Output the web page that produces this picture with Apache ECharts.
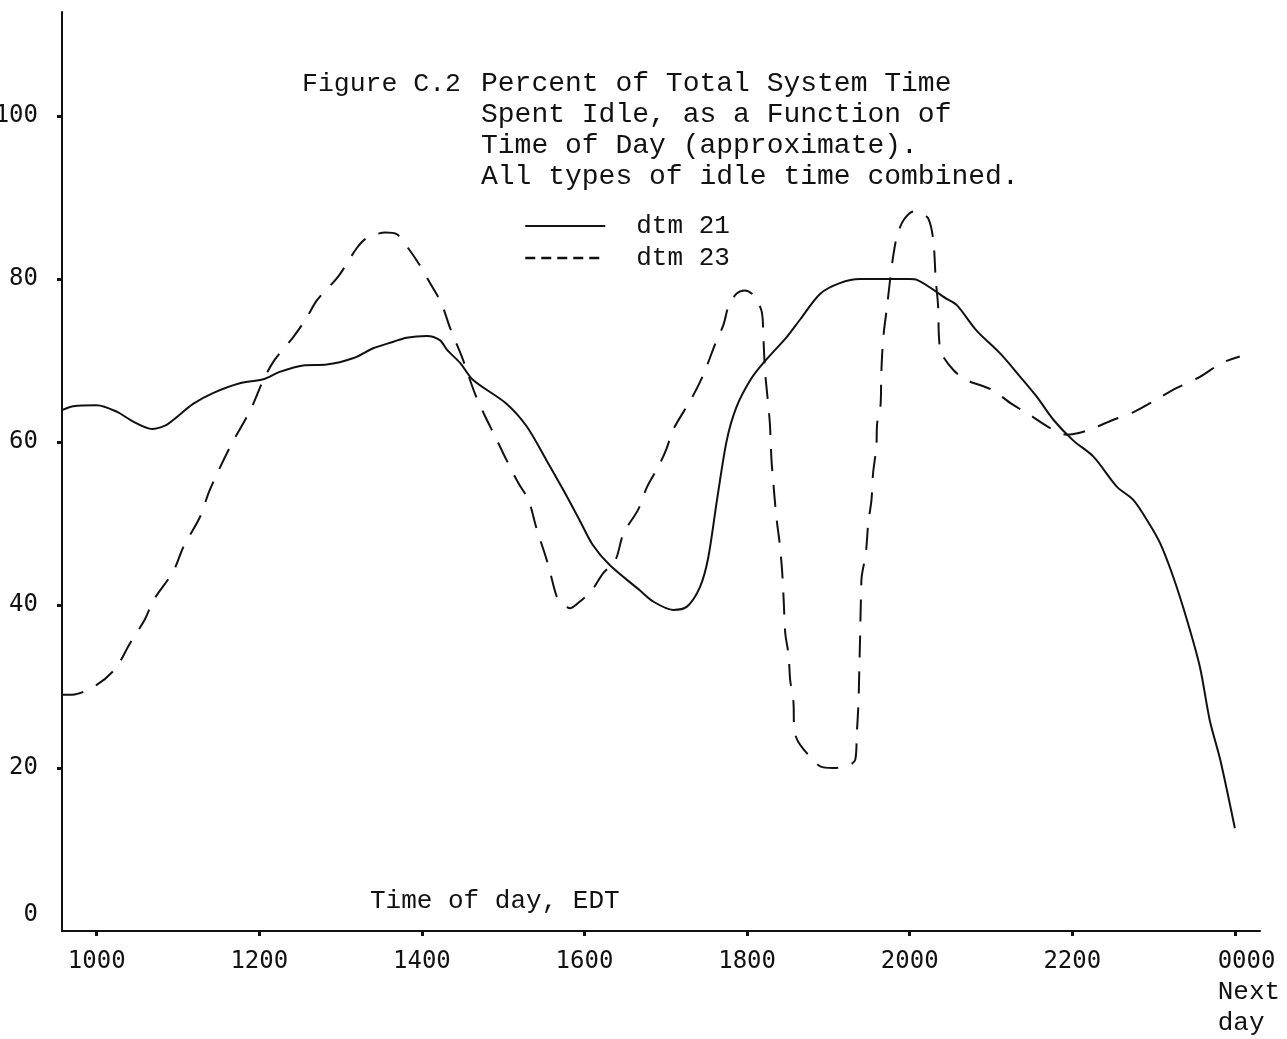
<!DOCTYPE html>
<html>
<head>
<meta charset="utf-8">
<script src="https://cdn.jsdelivr.net/npm/echarts@6/dist/echarts.min.js"></script>
<style>
  html, body { margin: 0; padding: 0; background: #ffffff; }
  #chart { width: 1287px; height: 1039px; }
</style>
</head>
<body>
<div id="chart"></div>
<script>
// ---- Data (time of day in decimal hours; 24 = 0000 next day) ----
const xTickHours = [10, 12, 14, 16, 18, 20, 22, 24];
const xTickLabels = ['1000', '1200', '1400', '1600', '1800', '2000', '2200', '0000'];
const yTickValues = [0, 20, 40, 60, 80, 100];

const dtm21Hours = [9.57, 9.71, 10.00, 10.25, 10.45, 10.68, 10.84, 10.94, 11.19, 11.43, 11.76, 12.05, 12.25, 12.54, 12.83, 13.16, 13.40, 13.65, 13.81, 14.06, 14.22, 14.31, 14.47, 14.63, 15.04, 15.29, 15.53, 15.74, 15.94, 16.10, 16.31, 16.68, 16.85, 17.09, 17.26, 17.42, 17.52, 17.63, 17.75, 17.87, 18.04, 18.20, 18.49, 18.65, 18.90, 19.14, 19.39, 20.00, 20.09, 20.45, 20.58, 20.82, 21.11, 21.36, 21.56, 21.77, 22.01, 22.26, 22.55, 22.75, 22.92, 23.08, 23.24, 23.41, 23.57, 23.69, 23.82, 24.00];
const dtm21Values = [63.9, 64.4, 64.5, 63.7, 62.5, 61.6, 62.0, 62.7, 64.7, 66.0, 67.2, 67.7, 68.6, 69.4, 69.5, 70.3, 71.5, 72.3, 72.8, 73.0, 72.5, 71.3, 69.7, 67.6, 64.7, 61.9, 57.8, 54.1, 50.4, 47.4, 44.9, 41.8, 40.4, 39.4, 39.8, 42.2, 45.7, 52.9, 60.2, 64.3, 67.6, 69.7, 72.9, 75.0, 78.2, 79.5, 80.0, 80.0, 79.9, 77.6, 76.8, 73.7, 70.9, 68.0, 65.6, 62.7, 60.2, 58.2, 54.5, 52.9, 50.4, 47.6, 43.5, 38.2, 32.4, 25.9, 21.0, 12.6];

const dtm23Hours = [9.57, 9.70, 10.00, 10.23, 10.41, 10.59, 10.70, 10.94, 11.07, 11.27, 11.39, 11.64, 11.89, 12.05, 12.19, 12.42, 12.58, 12.71, 12.97, 13.20, 13.32, 13.55, 13.69, 13.83, 13.96, 14.10, 14.24, 14.35, 14.49, 14.65, 14.78, 14.90, 15.04, 15.19, 15.31, 15.41, 15.53, 15.58, 15.66, 15.72, 15.82, 15.94, 16.09, 16.23, 16.38, 16.48, 16.66, 16.77, 16.91, 17.01, 17.09, 17.32, 17.46, 17.61, 17.71, 17.77, 17.87, 17.97, 18.08, 18.18, 18.20, 18.22, 18.25, 18.28, 18.30, 18.32, 18.36, 18.40, 18.43, 18.45, 18.47, 18.51, 18.53, 18.57, 18.58, 18.63, 18.79, 18.90, 19.05, 19.22, 19.33, 19.35, 19.37, 19.38, 19.39, 19.40, 19.41, 19.46, 19.49, 19.53, 19.55, 19.59, 19.60, 19.64, 19.65, 19.66, 19.68, 19.72, 19.76, 19.80, 19.85, 19.93, 20.05, 20.15, 20.23, 20.29, 20.32, 20.35, 20.36, 20.39, 20.54, 20.70, 21.01, 21.25, 21.48, 21.73, 21.93, 22.08, 22.26, 22.50, 22.76, 22.98, 23.28, 23.57, 23.84, 24.06];
const dtm23Values = [29.0, 29.0, 30.2, 32.2, 35.3, 38.2, 40.6, 44.1, 47.2, 50.8, 54.1, 59.4, 63.9, 67.6, 70.1, 72.9, 75.2, 77.4, 80.3, 83.8, 85.0, 85.7, 85.5, 83.8, 81.9, 79.5, 77.0, 73.9, 70.5, 66.0, 63.1, 60.7, 57.8, 54.9, 52.9, 49.4, 45.7, 43.9, 41.0, 40.4, 39.6, 40.4, 41.8, 43.9, 45.5, 48.8, 51.7, 54.5, 57.0, 59.2, 61.5, 65.4, 68.2, 72.1, 74.4, 76.6, 78.2, 78.6, 78.0, 76.0, 72.9, 68.8, 65.6, 62.3, 57.8, 55.3, 50.8, 47.6, 44.3, 40.6, 36.5, 33.9, 30.8, 28.1, 24.7, 23.2, 21.2, 20.2, 20.0, 20.2, 21.0, 24.3, 28.0, 32.0, 36.0, 40.8, 43.5, 46.3, 50.0, 52.9, 56.2, 59.4, 62.3, 64.3, 68.0, 70.5, 73.3, 76.5, 80.0, 83.0, 85.5, 87.3, 88.3, 88.0, 87.4, 84.8, 80.0, 76.6, 72.9, 70.9, 68.8, 67.6, 66.4, 64.7, 63.3, 61.7, 60.9, 61.1, 61.7, 62.7, 63.7, 64.9, 66.6, 68.0, 69.7, 70.5];

const titleLabel = 'Figure C.2';
const titleLines = ['Percent of Total System Time', 'Spent Idle, as a Function of', 'Time of Day (approximate).', 'All types of idle time combined.'];
const xAxisTitle = 'Time of day, EDT';
const seriesNames = ['dtm 21', 'dtm 23'];

// ---- Chart ----
const TYPE = '"Liberation Mono", "DejaVu Sans Mono", monospace';
const DIGITS = '"DejaVu Sans Mono", "Liberation Mono", monospace';
const INK = '#111111';

const pairs = (xs, ys) => xs.map((x, i) => [x, ys[i]]);

const chart = echarts.init(document.getElementById('chart'), null, { renderer: 'canvas' });

chart.setOption({
  backgroundColor: '#ffffff',
  animation: false,
  title: [
    { text: titleLabel, left: 297, top: 63,
      textStyle: { fontFamily: TYPE, fontSize: 26.5, fontWeight: 'normal', color: INK, lineHeight: 31 } },
    { text: titleLines.join('\n'), left: 476, top: 63,
      textStyle: { fontFamily: TYPE, fontSize: 28, fontWeight: 'normal', color: INK, lineHeight: 31 } },
    { text: xAxisTitle, left: 365, top: 881,
      textStyle: { fontFamily: TYPE, fontSize: 26, fontWeight: 'normal', color: INK, lineHeight: 30 } }
  ],
  legend: {
    orient: 'vertical',
    left: 519,
    top: 206,
    itemWidth: 80,
    itemHeight: 14,
    itemGap: 2,
    itemStyle: { opacity: 0, borderWidth: 0 },
    textStyle: { fontFamily: TYPE, fontSize: 26, color: INK, lineHeight: 30, padding: [0, 0, 0, 26] },
    data: [
      { name: seriesNames[0] },
      { name: seriesNames[1], lineStyle: { type: [10, 6], width: 2.5 } }
    ]
  },
  grid: { left: 62, right: 27, top: 12, bottom: 108, containLabel: false, outerBoundsMode: 'none' },
  xAxis: {
    type: 'value',
    min: 9.573,
    max: 24.309,
    splitLine: { show: false },
    axisLine: { show: true, lineStyle: { color: INK, width: 2 } },
    axisTick: { show: true, customValues: xTickHours, length: 5, lineStyle: { color: INK, width: 3 } },
    axisLabel: {
      show: true,
      customValues: xTickHours,
      margin: 15,
      fontFamily: DIGITS,
      fontSize: 24,
      lineHeight: 31,
      color: INK,
      formatter: function (v) {
        const i = xTickHours.indexOf(v);
        const t = i >= 0 ? xTickLabels[i] : '';
        if (v === 24) return '{a|' + t + '}\n{b|Next}\n{b|day}';
        return t;
      },
      rich: {
        a: { fontFamily: DIGITS, fontSize: 24, lineHeight: 31, color: INK, align: 'left', padding: [0, 0, 0, 28] },
        b: { fontFamily: TYPE, fontSize: 26, lineHeight: 31, color: INK, align: 'left', padding: [0, 0, 0, 28] }
      }
    }
  },
  yAxis: {
    type: 'value',
    min: 0,
    max: 112.76,
    splitLine: { show: false },
    axisLine: { show: true, lineStyle: { color: INK, width: 2 } },
    axisTick: { show: true, customValues: [20, 40, 60, 80, 100], length: 5, lineStyle: { color: INK, width: 3 } },
    axisLabel: {
      show: true,
      customValues: yTickValues,
      margin: 24,
      fontFamily: DIGITS,
      fontSize: 24,
      color: INK,
      formatter: function (v) { return v === 0 ? '{z|0}' : String(v); },
      rich: { z: { fontFamily: DIGITS, fontSize: 24, color: INK, padding: [0, 0, 32, 0] } }
    }
  },
  series: [
    {
      name: seriesNames[0],
      type: 'line',
      data: pairs(dtm21Hours, dtm21Values),
      smooth: 0.3,
      showSymbol: false,
      symbol: 'none',
      lineStyle: { color: INK, width: 2, type: 'solid' },
      itemStyle: { color: INK }
    },
    {
      name: seriesNames[1],
      type: 'line',
      data: pairs(dtm23Hours, dtm23Values),
      smooth: 0.3,
      showSymbol: false,
      symbol: 'none',
      lineStyle: { color: INK, width: 2, type: [22, 14] },
      itemStyle: { color: INK }
    }
  ]
});
</script>
</body>
</html>
